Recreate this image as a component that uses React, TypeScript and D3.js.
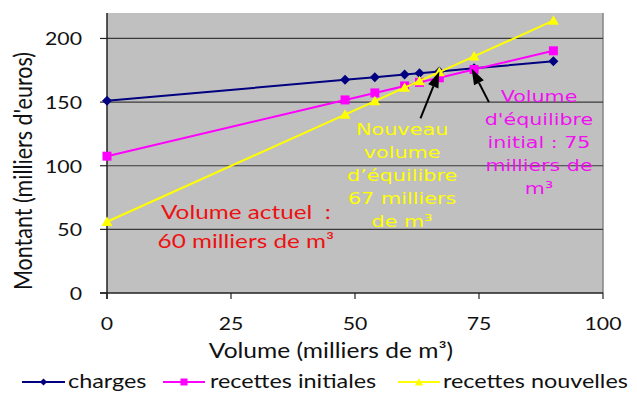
import React from "react";
import * as d3 from "d3";

// Volumes (milliers de m³) and amounts (milliers d'euros)
const volumes = [0, 48, 54, 60, 63, 67, 74, 90];
const charges = [151, 167.5, 169.6, 171.7, 172.7, 174.1, 176.5, 182];
const recettesInitiales = [107.5, 151.7, 157.2, 162.7, 165.5, 169.1, 175.6, 190.3];
const recettesNouvelles = [56, 140.2, 150.8, 161.3, 166.6, 173.6, 185.9, 214];

const xTicks = [0, 25, 50, 75, 100];
const yTicks = [0, 50, 100, 150, 200];
const gridValues = [50, 100, 150, 200];

const seriesNames = ["charges", "recettes initiales", "recettes nouvelles"];
const seriesColors = ["#000080", "#FF00FF", "#FFFF00"];

const xTitle = "Volume (milliers de m³)";
const yTitle = "Montant (milliers d'euros)";

const noteActuel = ["Volume actuel \u00a0:", "60 milliers de m³"];
const noteNouveau = ["Nouveau", "volume", "d’équilibre", "67 milliers", "de m³"];
const noteInitial = ["Volume", "d'équilibre", "initial : 75", "milliers de", "m³"];

const W = 637;
const H = 394;
const PLOT = { left: 107, right: 603, top: 13, bottom: 293 };

const x = d3.scaleLinear().domain([0, 100]).range([PLOT.left, PLOT.right]);
const y = d3.scaleLinear().domain([0, 220]).range([PLOT.bottom, PLOT.top]);

const SANS = "Lato, 'Open Sans', sans-serif";
const VERD = "'DejaVu Sans', Verdana, sans-serif";

type TProps = {
  x: number;
  y: number;
  sx?: number;
  size: number;
  family?: string;
  fill?: string;
  anchor?: "start" | "middle" | "end";
  rotate?: number;
  children: React.ReactNode;
};

// Horizontally widened text, anchored at (x, y)
function T({ x, y, sx = 1, size, family = SANS, fill = "#000", anchor = "start", rotate, children }: TProps) {
  const tr = `translate(${x},${y}) scale(${sx},1)` + (rotate ? ` rotate(${rotate})` : "");
  return (
    <text transform={tr} fontSize={size} fontFamily={family} fill={fill} textAnchor={anchor}>
      {children}
    </text>
  );
}

const diamond = d3.symbol().type(d3.symbolSquare);
const square = d3.symbol().type(d3.symbolSquare);
const triangle = d3.symbol().type(d3.symbolTriangle);

function Marker({ kind, cx, cy, small }: { kind: number; cx: number; cy: number; small?: boolean }) {
  const color = seriesColors[kind];
  if (kind === 0) {
    return (
      <path
        d={diamond.size(small ? 26 : 50)() as string}
        transform={`translate(${cx},${cy}) rotate(45)`}
        fill={color}
      />
    );
  }
  if (kind === 1) {
    return <path d={square.size(small ? 49 : 81)() as string} transform={`translate(${cx},${cy})`} fill={color} />;
  }
  return (
    <path d={triangle.size(small ? 30 : 52)() as string} transform={`translate(${cx},${cy + 1})`} fill={color} />
  );
}

function Arrow({ from, to }: { from: [number, number]; to: [number, number] }) {
  const x1 = x(from[0]);
  const y1 = y(from[1]);
  const x2 = x(to[0]);
  const y2 = y(to[1]);
  const ang = Math.atan2(y2 - y1, x2 - x1);
  const len = 16;
  const half = 5.5;
  const bx = x2 - len * Math.cos(ang);
  const by = y2 - len * Math.sin(ang);
  const px = -Math.sin(ang);
  const py = Math.cos(ang);
  const head = `M${x2},${y2}L${bx + half * px},${by + half * py}L${bx - half * px},${by - half * py}Z`;
  return (
    <g>
      <line x1={x1} y1={y1} x2={bx} y2={by} stroke="#000" strokeWidth={2} />
      <path d={head} fill="#000" />
    </g>
  );
}

export default function App() {
  const series = [charges, recettesInitiales, recettesNouvelles];
  const line = d3
    .line<number>()
    .x((_, i) => x(volumes[i]))
    .y((d) => y(d));

  const legendItems = [
    { x1: 22, x2: 65, tx: 68 },
    { x1: 163, x2: 205, tx: 210 },
    { x1: 398, x2: 440, tx: 443 },
  ];
  const legendY = 382;

  return (
    <svg
      width={W}
      height={H}
      viewBox={`0 0 ${W} ${H}`}
      style={{ position: "absolute", left: 0, top: 0, background: "#fff" }}
    >
      {/* plot area */}
      <rect x={PLOT.left} y={PLOT.top} width={PLOT.right - PLOT.left} height={PLOT.bottom - PLOT.top} fill="#C0C0C0" />
      <line x1={PLOT.right} x2={PLOT.right} y1={PLOT.top} y2={PLOT.bottom} stroke="#858585" strokeWidth={1.5} />
      {gridValues.map((v) => (
        <line key={v} x1={PLOT.left} x2={PLOT.right} y1={y(v)} y2={y(v)} stroke="#3a3a3a" strokeWidth={1.2} />
      ))}

      {/* axes */}
      <line x1={PLOT.left} x2={PLOT.left} y1={PLOT.top} y2={PLOT.bottom + 6} stroke="#222" strokeWidth={1.5} />
      <line x1={PLOT.left - 7} x2={PLOT.right} y1={PLOT.bottom} y2={PLOT.bottom} stroke="#222" strokeWidth={1.5} />
      {yTicks.map((v) => (
        <line key={"yt" + v} x1={PLOT.left - 7} x2={PLOT.left} y1={y(v)} y2={y(v)} stroke="#222" strokeWidth={1.2} />
      ))}
      {xTicks.map((v) => (
        <line key={"xt" + v} x1={x(v)} x2={x(v)} y1={PLOT.bottom} y2={PLOT.bottom + 6} stroke="#222" strokeWidth={1.2} />
      ))}
      {yTicks.map((v) => (
        <T key={"yl" + v} x={82} y={y(v) + 7} sx={1.18} size={18} anchor="end" fill="#111">
          {v}
        </T>
      ))}
      {xTicks.map((v) => (
        <T key={"xl" + v} x={x(v)} y={330} sx={1.18} size={18} anchor="middle" fill="#111">
          {v}
        </T>
      ))}
      <T x={331} y={358} sx={1.17} size={21} anchor="middle" fill="#111">
        {xTitle}
      </T>
      <T x={32} y={171} sx={1.2} size={21.5} anchor="middle" rotate={-90} fill="#111">
        {yTitle}
      </T>

      {/* series */}
      {series.map((s, k) => (
        <g key={"s" + k}>
          <path d={line(s) as string} fill="none" stroke={seriesColors[k]} strokeWidth={2} />
          {s.map((v, i) => (
            <Marker key={i} kind={k} cx={x(volumes[i])} cy={y(v)} />
          ))}
        </g>
      ))}

      {/* notes */}
      {noteActuel.map((t, i) => (
        <T key={"na" + i} x={x(28)} y={y(58.2) + i * 29} sx={1.28} size={19} anchor="middle" fill="#EE1111">
          {t}
        </T>
      ))}
      {noteNouveau.map((t, i) => (
        <T key={"nn" + i} x={x(59.5)} y={y(124.2) + i * 23} sx={1.26} size={16.5} family={VERD} anchor="middle" fill="#FFFF00">
          {t}
        </T>
      ))}
      {noteInitial.map((t, i) => (
        <T key={"ni" + i} x={x(87.1)} y={y(150.3) + i * 23} sx={1.25} size={16.5} family={VERD} anchor="middle" fill="#F010F0">
          {t}
        </T>
      ))}
      <Arrow from={[63.2, 137.3]} to={[67, 174]} />
      <Arrow from={[77, 150]} to={[73.5, 176.3]} />

      {/* legend */}
      {legendItems.map((it, k) => (
        <g key={"lg" + k}>
          <line x1={it.x1} x2={it.x2} y1={legendY} y2={legendY} stroke={seriesColors[k]} strokeWidth={2} />
          <Marker kind={k} cx={(it.x1 + it.x2) / 2} cy={legendY} small />
          <T x={it.tx} y={legendY + 6} sx={1.2} size={19.5} fill="#111">
            {seriesNames[k]}
          </T>
        </g>
      ))}
    </svg>
  );
}
